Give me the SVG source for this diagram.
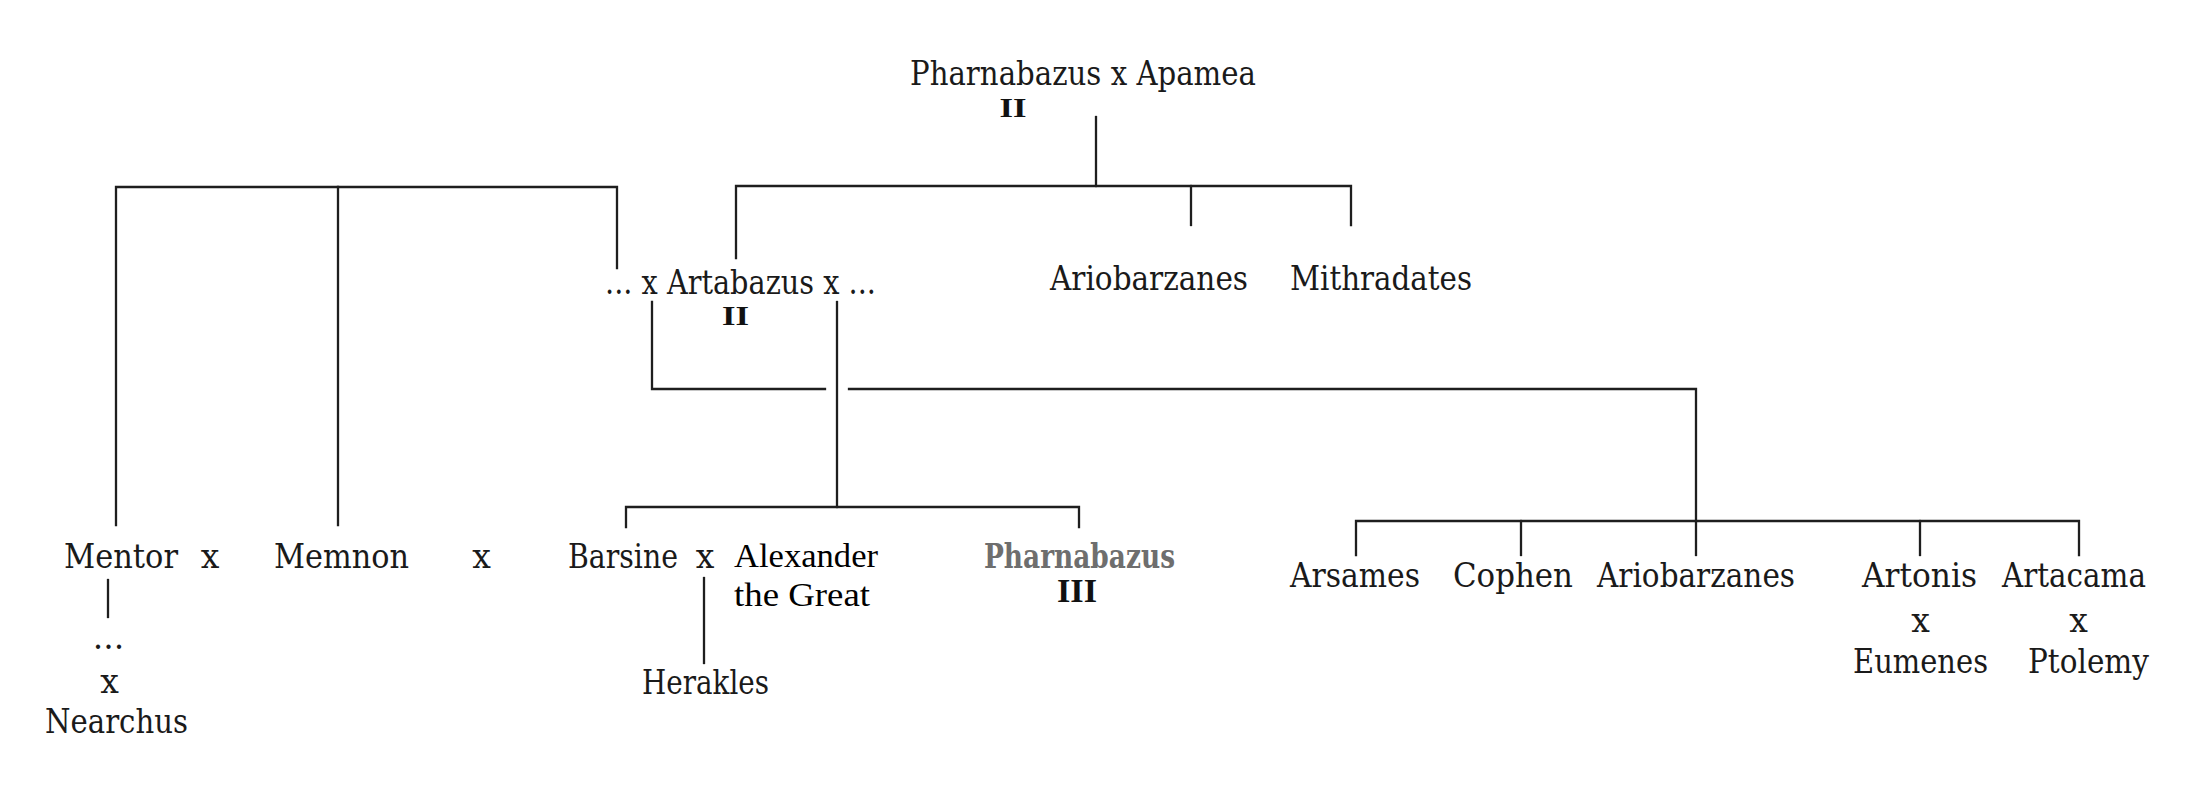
<svg xmlns="http://www.w3.org/2000/svg" width="2212" height="786" viewBox="0 0 2212 786">
<style>
.t{font-family:"DejaVu Serif","Liberation Serif",serif;font-size:33px;fill:#1a1a1a;text-anchor:middle}
.g{font-family:"Liberation Serif","Times New Roman",serif;font-size:34px;fill:#000}
.r{font-family:"Liberation Serif","Times New Roman",serif;font-weight:bold;fill:#111;text-anchor:middle}
.gray{font-family:"DejaVu Serif","Liberation Serif",serif;font-weight:bold;font-size:33px;fill:#6e6e6e;text-anchor:middle}
.c{fill:none;stroke:#1e1e1e;stroke-width:2.3;stroke-linecap:square}
</style>
<rect width="2212" height="786" fill="#fff"/>
<g id="connectors" class="c">
<path d="M1096,117V186"/>
<path d="M736,258V186H1351V225"/>
<path d="M1191,186V225"/>
<path d="M116,525V187H617V268"/>
<path d="M338,187V525"/>
<path d="M108,580V617"/>
<path d="M652,302V389H825"/>
<path d="M849,389H1696V521"/>
<path d="M837,302V507"/>
<path d="M626,527V507H1079V527"/>
<path d="M704,578V663"/>
<path d="M1356,555V521H2079V555"/>
<path d="M1521,521V555"/>
<path d="M1696,521V555"/>
<path d="M1920,521V555"/>
</g>
<g id="pharnabazus-ii">
<text class="t" x="1083" y="85" textLength="346" lengthAdjust="spacingAndGlyphs">Pharnabazus x Apamea</text>
<text class="r" x="1013" y="117" font-size="27" textLength="27" lengthAdjust="spacingAndGlyphs">II</text>
</g>
<g id="artabazus-ii">
<text class="t" x="740.5" y="294" textLength="271" lengthAdjust="spacingAndGlyphs">... x Artabazus x ...</text>
<text class="r" x="735.5" y="325" font-size="27" textLength="27" lengthAdjust="spacingAndGlyphs">II</text>
</g>
<g id="ariobarzanes-1">
<text class="t" x="1149" y="290" textLength="198" lengthAdjust="spacingAndGlyphs">Ariobarzanes</text>
</g>
<g id="mithradates">
<text class="t" x="1381" y="290" textLength="182" lengthAdjust="spacingAndGlyphs">Mithradates</text>
</g>
<g id="mentor">
<text class="t" x="121" y="568" textLength="114" lengthAdjust="spacingAndGlyphs">Mentor</text>
<text class="t" x="210" y="568">x</text>
</g>
<g id="nearchus">
<text class="t" x="108.5" y="649">...</text>
<text class="t" x="109.5" y="693">x</text>
<text class="t" x="116.5" y="733" textLength="143" lengthAdjust="spacingAndGlyphs">Nearchus</text>
</g>
<g id="memnon">
<text class="t" x="341.5" y="568" textLength="135" lengthAdjust="spacingAndGlyphs">Memnon</text>
<text class="t" x="481.5" y="568">x</text>
</g>
<g id="barsine">
<text class="t" x="623" y="568" textLength="110" lengthAdjust="spacingAndGlyphs">Barsine</text>
<text class="t" x="705" y="568">x</text>
</g>
<g id="alexander">
<text class="g" x="734" y="567" textLength="144" lengthAdjust="spacingAndGlyphs">Alexander</text>
<text class="g" x="734" y="606" textLength="136" lengthAdjust="spacingAndGlyphs">the Great</text>
</g>
<g id="herakles">
<text class="t" x="705.5" y="694" textLength="127" lengthAdjust="spacingAndGlyphs">Herakles</text>
</g>
<g id="pharnabazus-iii">
<text class="gray" x="1079.5" y="568" textLength="191" lengthAdjust="spacingAndGlyphs">Pharnabazus</text>
<text class="r" x="1077" y="602" font-size="33" textLength="40" lengthAdjust="spacingAndGlyphs">III</text>
</g>
<g id="arsames">
<text class="t" x="1355" y="587" textLength="130" lengthAdjust="spacingAndGlyphs">Arsames</text>
</g>
<g id="cophen">
<text class="t" x="1513" y="587" textLength="120" lengthAdjust="spacingAndGlyphs">Cophen</text>
</g>
<g id="ariobarzanes-2">
<text class="t" x="1696" y="587" textLength="198" lengthAdjust="spacingAndGlyphs">Ariobarzanes</text>
</g>
<g id="artonis">
<text class="t" x="1919.5" y="587" textLength="115" lengthAdjust="spacingAndGlyphs">Artonis</text>
<text class="t" x="1920.5" y="632">x</text>
<text class="t" x="1920.5" y="673" textLength="135" lengthAdjust="spacingAndGlyphs">Eumenes</text>
</g>
<g id="artacama">
<text class="t" x="2074" y="587" textLength="144" lengthAdjust="spacingAndGlyphs">Artacama</text>
<text class="t" x="2078.5" y="632">x</text>
<text class="t" x="2088.5" y="673" textLength="121" lengthAdjust="spacingAndGlyphs">Ptolemy</text>
</g>
</svg>
